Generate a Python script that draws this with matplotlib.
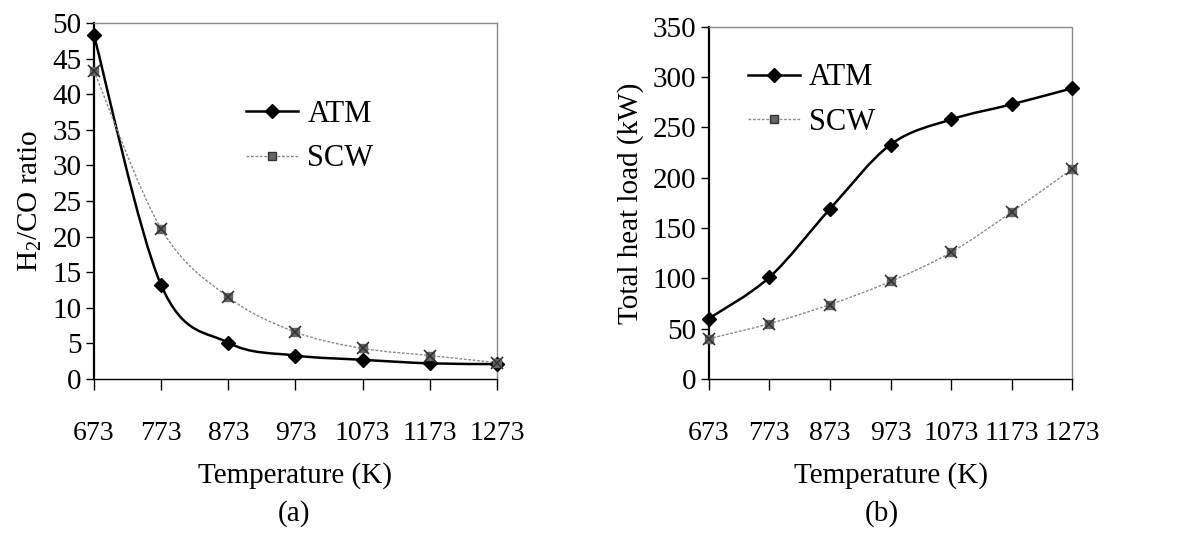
import numpy as np
import matplotlib
matplotlib.use('Agg')
import matplotlib.pyplot as plt
from matplotlib.path import Path
from matplotlib.patches import PathPatch
from matplotlib.lines import Line2D

plt.rcParams['font.family'] = ['Liberation Serif', 'DejaVu Serif']
plt.rcParams['mathtext.fontset'] = 'custom'
plt.rcParams['mathtext.rm'] = 'Liberation Serif'

temps = [673, 773, 873, 973, 1073, 1173, 1273]

# (a) H2/CO ratio
ratio_atm = [48.3, 13.2, 5.1, 3.3, 2.7, 2.2, 2.1]
ratio_scw = [43.3, 21.1, 11.5, 6.6, 4.3, 3.3, 2.3]

# (b) total heat load, kW
heat_atm = [60, 101, 169, 233, 258, 273, 289]
heat_scw = [40, 55, 74, 97, 126, 166, 209]

FS = 21


def smooth_path(x, y):
    # excel-like smoothed line: cubic bezier through the points
    pts = np.column_stack([np.asarray(x, float), np.asarray(y, float)])
    verts = [pts[0]]
    codes = [Path.MOVETO]
    n = len(pts)
    for i in range(n - 1):
        p0 = pts[i - 1] if i > 0 else pts[i]
        p1 = pts[i]
        p2 = pts[i + 1]
        p3 = pts[i + 2] if i + 2 < n else pts[i + 1]
        c1 = p1 + (p2 - p0) / 6.0
        c2 = p2 - (p3 - p1) / 6.0
        verts += [c1, c2, p2]
        codes += [Path.CURVE4] * 3
    return Path(verts, codes)


def draw_series(ax, x, y, style):
    if style == 'atm':
        ax.add_patch(PathPatch(smooth_path(x, y), fill=False, ec='black', lw=1.8, zorder=3))
        ax.plot(x, y, ls='none', marker='D', ms=7, color='black', zorder=4, clip_on=False)
    else:
        ax.add_patch(PathPatch(smooth_path(x, y), fill=False, ec='#8a8a8a', lw=1.0,
                               ls=(0, (2, 1.2)), zorder=3))
        ax.plot(x, y, ls='none', marker='s', ms=6, color='#666666', zorder=4, clip_on=False)
        ax.plot(x, y, ls='none', marker='x', ms=8, mew=1.2, color='#333333', zorder=5, clip_on=False)


def style_axes(ax, ymax, ystep, ylabel):
    ax.set_xlim(temps[0], temps[-1])
    ax.set_ylim(0, ymax)
    ax.set_xticks(temps)
    ax.set_yticks(np.arange(0, ymax + 1, ystep))
    ax.tick_params(axis='x', direction='out', length=8, width=1, pad=22, labelsize=FS - 1)
    ax.tick_params(axis='y', direction='out', length=6, width=1, pad=3, labelsize=FS)
    ax.spines['left'].set_linewidth(1.6)
    ax.spines['bottom'].set_linewidth(1.0)
    for s in ['top', 'right']:
        ax.spines[s].set_color('#888888')
        ax.spines[s].set_linestyle((0, (1, 1)))
        ax.spines[s].set_linewidth(1.0)
    ax.set_xlabel('Temperature (K)', fontsize=FS, labelpad=12)
    ax.set_ylabel(ylabel, fontsize=FS, labelpad=6)


fig = plt.figure(figsize=(11.89, 5.41), dpi=100)
ax1 = fig.add_axes([0.079, 0.2994, 0.339, 0.658])
ax2 = fig.add_axes([0.596, 0.2994, 0.306, 0.651])

style_axes(ax1, 50, 5, 'H$_2$/CO ratio')
draw_series(ax1, temps, ratio_atm, 'atm')
draw_series(ax1, temps, ratio_scw, 'scw')

style_axes(ax2, 350, 50, 'Total heat load (kW)')
draw_series(ax2, temps, heat_atm, 'atm')
draw_series(ax2, temps, heat_scw, 'scw')

h_atm = Line2D([], [], color='black', lw=1.8, marker='D', ms=7)
h_scw = Line2D([], [], color='#8a8a8a', lw=1.0, ls=(0, (2, 1.2)), marker='s', ms=6,
               mfc='#666666', mec='#333333')
for ax, loc in [(ax1, (0.34, 0.535)), (ax2, (0.066, 0.645))]:
    ax.legend([h_atm, h_scw], ['ATM', 'SCW'], loc='lower left', bbox_to_anchor=loc,
              frameon=False, fontsize=FS + 1, handlelength=1.7, handletextpad=0.3,
              labelspacing=0.5, borderpad=0)

fig.text(0.247, 0.05, '(a)', ha='center', va='center', fontsize=FS)
fig.text(0.742, 0.05, '(b)', ha='center', va='center', fontsize=FS)

plt.savefig('out.png', dpi=100)
